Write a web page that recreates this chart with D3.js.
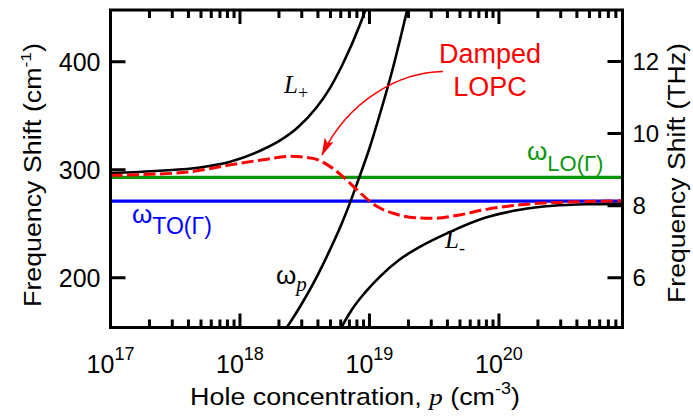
<!DOCTYPE html>
<html><head><meta charset="utf-8">
<script src="https://cdn.jsdelivr.net/npm/d3@7/dist/d3.min.js"></script>
<style>body{margin:0;background:#fff}</style>
</head><body>
<svg id="c" width="693" height="417" xmlns="http://www.w3.org/2000/svg"></svg>
<script>
// ---- data ----
const xTickExps = [17, 18, 19, 20];
const yTicks = [200, 300, 400];
const thzTicks = [6, 8, 10, 12];
const omegaLO = 293;   // cm^-1
const omegaTO = 271;   // cm^-1

const lPlusP = [1e17, 2.4e17, 4.9e17, 8.4e17, 1.5e18, 2.0e18, 2.75e18, 3.9e18, 4.94e18, 6.22e18, 8.41e18, 9.35e18, 1.0e19];
const lPlusV = [296.9, 299.1, 302.1, 307.4, 318.8, 326.6, 338.5, 357.7, 375.5, 398.0, 433.9, 448.6, 458.4];

const lMinusP = [5.7e18, 6.1e18, 7.3e18, 9.2e18, 1.2e19, 1.7e19, 2.45e19, 4.2e19, 7.8e19, 1.45e20, 2.6e20, 4.75e20, 9e20];
const lMinusV = [146, 154.2, 170.4, 186.1, 200.9, 216.7, 228.7, 242.6, 255.6, 263.0, 266.7, 268.1, 268.5];

const wpP = [2.0e18, 3e18, 4e18, 5e18, 6e18, 7e18, 8e18, 1e19, 1.2e19, 1.5e19, 1.8e19, 2.0e19];
const wpV = [143, 176, 203, 227, 248, 268, 287, 320, 351, 392, 430, 453];

const lopcP = [1e17, 2.0e17, 4.1e17, 8.4e17, 1.5e18, 2.43e18, 3.66e18, 4.94e18, 6.2e18, 8.0e18, 1.14e19, 1.57e19, 2.24e19, 3.2e19, 4.55e19, 8.0e19, 1.45e20, 2.6e20, 4.75e20, 9e20];
const lopcV = [294.9, 295.8, 298.1, 304.6, 309.3, 312.5, 310.6, 303.2, 294.0, 281.5, 266.2, 259.3, 255.6, 255.1, 257.4, 263.4, 267.6, 269.7, 270.6, 271.3];

const CM_PER_THZ = 33.356;

// ---- layout ----
const L = 110.5, R = 622.5, T = 10, B = 327.5;
const svg = d3.select("#c");
const x = d3.scaleLog().domain([1e17, 9e20]).range([L, R]);
const y = d3.scaleLinear().domain([154, 448]).range([B, T]);
const yT = d3.scaleLinear().domain([154 / CM_PER_THZ, 448 / CM_PER_THZ]).range([B, T]);

const SANS = "'Liberation Sans', Arial, Helvetica, sans-serif";
const SERIF = "'Liberation Serif', 'Times New Roman', serif";
const GREEN = "#0a960a";

const defs = svg.append("defs");
defs.append("clipPath").attr("id", "clip")
  .append("rect").attr("x", L).attr("y", T).attr("width", R - L).attr("height", B - T);

const majors = xTickExps.map(e => Math.pow(10, e));
const minorMult = [2, 3, 4, 5, 6, 7, 8, 9];
const minors = [];
xTickExps.forEach(e => minorMult.forEach(m => { const v = m * Math.pow(10, e); if (v < 8.99e20) minors.push(v); }));

// ---- plot contents ----
const plot = svg.append("g").attr("clip-path", "url(#clip)");
plot.append("line").attr("x1", L).attr("x2", R).attr("y1", y(omegaLO)).attr("y2", y(omegaLO))
  .attr("stroke", GREEN).attr("stroke-width", 3.2);
plot.append("line").attr("x1", L).attr("x2", R).attr("y1", y(omegaTO)).attr("y2", y(omegaTO))
  .attr("stroke", "#0000ff").attr("stroke-width", 3.2);

const line = d3.line().x(d => x(d[0])).y(d => y(d[1])).curve(d3.curveMonotoneX);
const zip = (a, b) => a.map((v, i) => [v, b[i]]);
[[lPlusP, lPlusV], [lMinusP, lMinusV], [wpP, wpV]].forEach(([p, v]) => {
  plot.append("path").attr("d", line(zip(p, v))).attr("fill", "none").attr("stroke", "#000").attr("stroke-width", 2.6);
});
plot.append("path").attr("d", line(zip(lopcP, lopcV))).attr("fill", "none").attr("stroke", "#ff0000")
  .attr("stroke-width", 3).attr("stroke-dasharray", "12,4.5");

// ---- frame and inward ticks as one path (positions from the scales) ----
const fp = d3.path();
fp.moveTo(L, T); fp.lineTo(R, T); fp.lineTo(R, B); fp.lineTo(L, B); fp.closePath();
minors.forEach(v => {
  fp.moveTo(x(v), B); fp.lineTo(x(v), B - 8);
  fp.moveTo(x(v), T); fp.lineTo(x(v), T + 8);
});
majors.forEach(v => {
  fp.moveTo(x(v), B); fp.lineTo(x(v), B - 14);
  fp.moveTo(x(v), T); fp.lineTo(x(v), T + 14);
});
yTicks.forEach(v => { fp.moveTo(L, y(v)); fp.lineTo(L + 15, y(v)); });
thzTicks.forEach(v => { fp.moveTo(R - 15, yT(v)); fp.lineTo(R, yT(v)); });
svg.append("path").attr("d", fp.toString()).attr("fill", "none").attr("stroke", "#000")
  .attr("stroke-width", 3).attr("stroke-linejoin", "miter");

// tick labels
svg.selectAll(null).data(yTicks).join("text")
  .attr("x", L - 10).attr("y", d => y(d)).attr("dy", "0.36em").attr("text-anchor", "end")
  .attr("font-family", SANS).attr("font-size", 25).text(d => d);
svg.selectAll(null).data(thzTicks).join("text")
  .attr("x", R + 10).attr("y", d => yT(d)).attr("dy", "0.36em").attr("text-anchor", "start")
  .attr("font-family", SANS).attr("font-size", 24).text(d => d);
xTickExps.forEach(e => {
  const t = svg.append("text").attr("x", x(Math.pow(10, e))).attr("y", 373)
    .attr("text-anchor", "middle").attr("font-family", SANS).attr("font-size", 25);
  t.append("tspan").text("10");
  t.append("tspan").attr("font-size", 18).attr("dy", -13).text(String(e));
});

// helper: fit a text to a target length along its direction
function fitText(sel, cx, cy, rot, target) {
  const w = sel.node().getBBox().width;
  const s = target / w;
  sel.attr("x", 0).attr("y", 0).attr("text-anchor", "middle")
    .attr("transform", `translate(${cx},${cy}) rotate(${rot}) scale(${s},1)`);
}

// axis titles
const xt = svg.append("text").attr("font-family", SANS).attr("font-size", 24);
xt.append("tspan").text("Hole concentration, ");
xt.append("tspan").attr("font-family", SERIF).attr("font-style", "italic").text("p");
xt.append("tspan").text(" (cm");
xt.append("tspan").attr("font-size", 16).attr("dy", -11).text("-3");
xt.append("tspan").attr("dy", 11).text(")");
fitText(xt, 355, 405, 0, 330);

const yl = svg.append("text").attr("font-family", SANS).attr("font-size", 23);
yl.append("tspan").text("Frequency Shift (cm");
yl.append("tspan").attr("font-size", 15).attr("dy", -10).text("-1");
yl.append("tspan").attr("dy", 10).text(")");
fitText(yl, 41, 175, -90, 264);

const yr = svg.append("text").attr("font-family", SANS).attr("font-size", 23).text("Frequency Shift (THz)");
fitText(yr, 685, 173, -90, 260);

// ---- annotations ----
svg.append("text").attr("x", 490).attr("y", 63).attr("text-anchor", "middle").attr("font-family", SANS)
  .attr("font-size", 27).attr("fill", "#ff0000").text("Damped");
svg.append("text").attr("x", 490).attr("y", 96).attr("text-anchor", "middle").attr("font-family", SANS)
  .attr("font-size", 27).attr("fill", "#ff0000").text("LOPC");

const lo = svg.append("text").attr("x", 527).attr("y", 160).attr("font-family", SANS).attr("font-size", 26).attr("fill", GREEN);
lo.append("tspan").text("ω");
lo.append("tspan").attr("font-size", 22).attr("dy", 11).text("LO(Γ)");

const to = svg.append("text").attr("x", 132).attr("y", 223).attr("font-family", SANS).attr("font-size", 26).attr("fill", "#0000ff");
to.append("tspan").text("ω");
to.append("tspan").attr("font-size", 23).attr("dy", 11).text("TO(Γ)");

const wp = svg.append("text").attr("x", 276).attr("y", 284).attr("font-family", SANS).attr("font-size", 26).attr("fill", "#000");
wp.append("tspan").text("ω");
wp.append("tspan").attr("font-family", SERIF).attr("font-style", "italic").attr("font-size", 21).attr("dy", 7).text("p");

const lp = svg.append("text").attr("x", 284).attr("y", 93).attr("font-family", SERIF).attr("font-style", "italic").attr("font-size", 25).attr("fill", "#000");
lp.append("tspan").text("L");
lp.append("tspan").attr("font-style", "normal").attr("font-size", 18).attr("dy", 6).text("+");

const lm = svg.append("text").attr("x", 445).attr("y", 248).attr("font-family", SERIF).attr("font-style", "italic").attr("font-size", 25).attr("fill", "#000");
lm.append("tspan").text("L");
lm.append("tspan").attr("font-style", "normal").attr("font-size", 18).attr("dy", 6).text("-");

// arrow
defs.append("marker").attr("id", "ah").attr("viewBox", "0 0 18 10").attr("refX", 17).attr("refY", 5)
  .attr("markerWidth", 18).attr("markerHeight", 10).attr("markerUnits", "userSpaceOnUse").attr("orient", "auto")
  .append("path").attr("d", "M0,0 L18,5 L0,10 L4,5 Z").attr("fill", "#ff0000");
svg.append("path").attr("d", "M443,71.5 C400,72 348,100 322,155").attr("fill", "none")
  .attr("stroke", "#ff0000").attr("stroke-width", 1.5).attr("marker-end", "url(#ah)");
</script>
</body></html>
